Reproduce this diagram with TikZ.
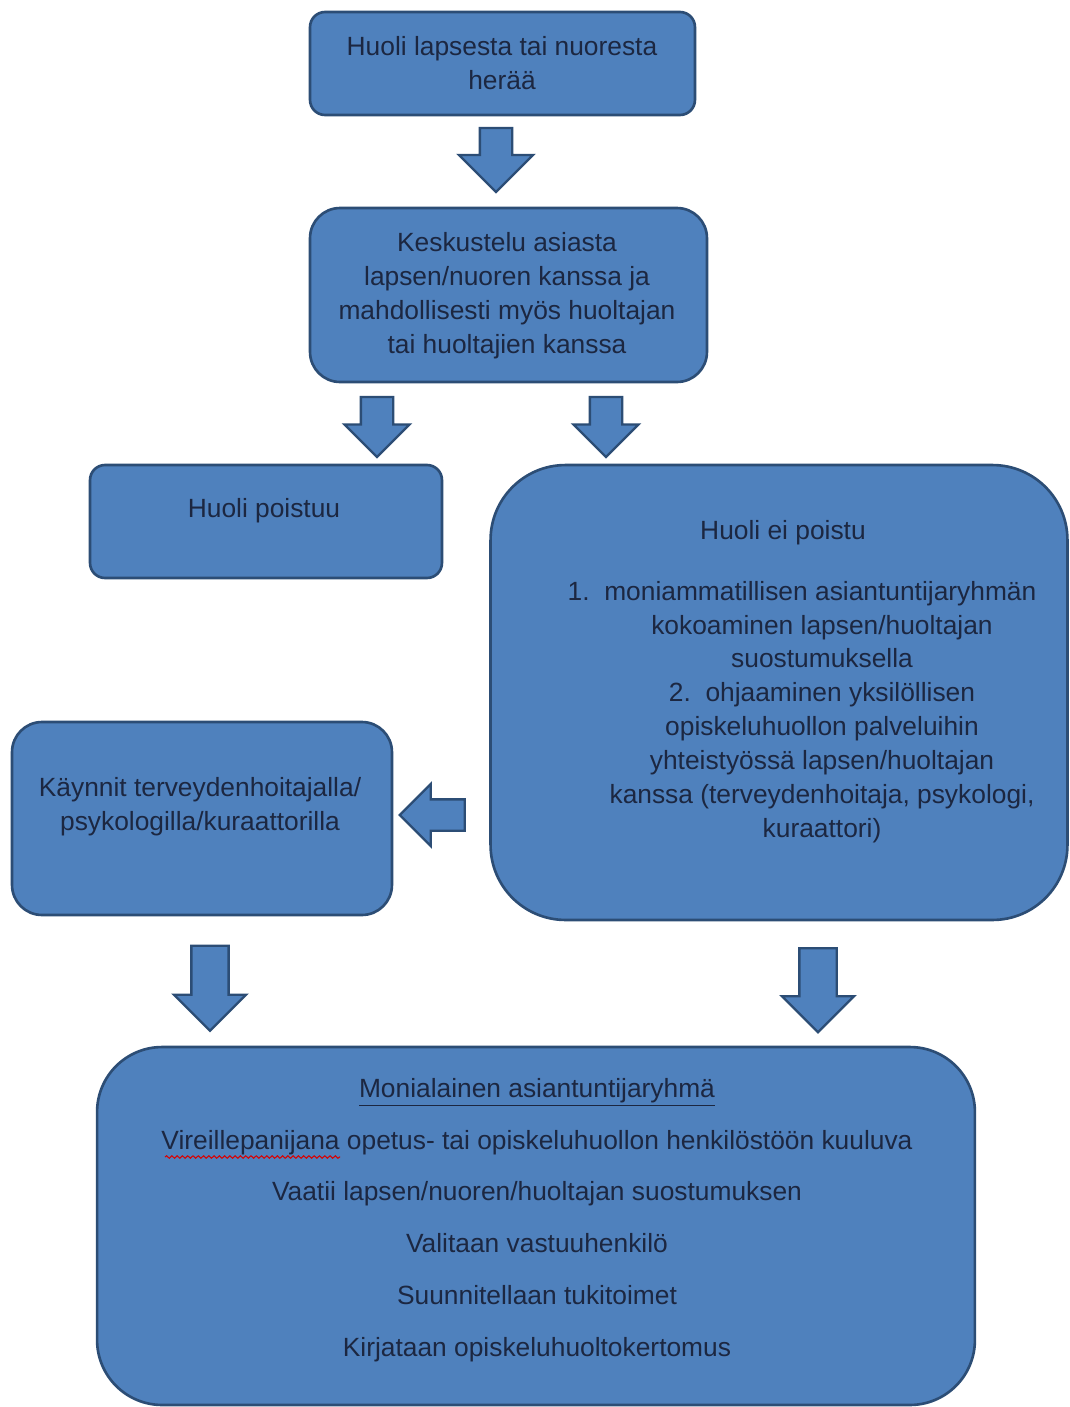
\documentclass[tikz,border=0pt]{standalone}
\usepackage{fontspec}
\setmainfont{Liberation Sans}
\usetikzlibrary{shapes.arrows,decorations.pathmorphing}
\definecolor{boxfill}{HTML}{4F81BD}
\definecolor{boxline}{HTML}{2C4D75}
\definecolor{boxtext}{HTML}{1C2741}
\tikzset{box/.style={draw=boxline,fill=boxfill,line width=1.5pt,inner sep=0pt},
txt/.style={text=boxtext,align=center,font=\fontsize{15}{19.3}\selectfont},
barrow/.style n args={3}{single arrow,draw=boxline,fill=boxfill,line width=1.3pt,inner xsep=0pt,inner ysep=#1,single arrow head extend=#2,minimum height=#3}}
\begin{document}
\begin{tikzpicture}[x=0.02cm,y=-0.02cm]
\fill[white](0,0)rectangle(1070,1407);\useasboundingbox(0,0)rectangle(1070,1407);
% laatikot
\node[box,rounded corners=0.3cm,minimum width=7.7cm,minimum height=2.06cm](huoli)at(502.5,63.5){};
\node[box,rounded corners=0.6cm,minimum width=7.94cm,minimum height=3.48cm](keskustelu)at(508.5,295){};
\node[box,rounded corners=0.3cm,minimum width=7.04cm,minimum height=2.26cm](poistuu)at(266,521.5){};
\node[box,rounded corners=1.5cm,minimum width=11.54cm,minimum height=9.1cm](eipoistu)at(779,692.5){};
\node[box,rounded corners=0.6cm,minimum width=7.6cm,minimum height=3.86cm](kaynnit)at(202,818.5){};
\node[box,rounded corners=1.3cm,minimum width=17.56cm,minimum height=7.16cm](moniala)at(536,1226){};
% tekstit
\node[txt](huoliT)at(502,63){Huoli lapsesta tai nuoresta\\herää};
\node[txt](keskusteluT)at(507,296){Keskustelu asiasta\\lapsen/nuoren kanssa ja\\mahdollisesti myös huoltajan\\tai huoltajien kanssa};
\node[txt](poistuuT)at(264,511){Huoli poistuu};
\node[txt](eipoistuT)at(783,533){Huoli ei poistu};
\node[txt](listaT)at(822,712){1.\ \ moniammatillisen asiantuntijaryhmän\hspace*{0.8cm}\\kokoaminen lapsen/huoltajan\\suostumuksella\\2.\ \ ohjaaminen yksilöllisen\hspace*{0.8cm}\\opiskeluhuollon palveluihin\\yhteistyössä lapsen/huoltajan\\kanssa (terveydenhoitaja, psykologi,\\kuraattori)};
\node[txt](kaynnitT)at(200,807){Käynnit terveydenhoitajalla/\\psykologilla/kuraattorilla};
\node[txt,font=\fontsize{15}{29.5}\selectfont](monialaT)at(537,1220){\underline{Monialainen asiantuntijaryhmä}\\Vireillepanijana opetus- tai opiskeluhuollon henkilöstöön kuuluva\\Vaatii lapsen/nuoren/huoltajan suostumuksen\\Valitaan vastuuhenkilö\\Suunnitellaan tukitoimet\\Kirjataan opiskeluhuoltokertomus};
\draw[red!85!black,line width=0.6pt,decorate,decoration={snake,amplitude=0.7pt,segment length=3pt}](165,1157)--(340,1157);
% nuolet
\node[barrow={0.3cm}{0.42cm}{1.28cm},rotate=-90](n1)at(496,152){};
\node[barrow={0.3cm}{0.33cm}{1.2cm},rotate=-90](n2)at(377,419){};
\node[barrow={0.3cm}{0.33cm}{1.2cm},rotate=-90](n3)at(606,419){};
\node[barrow={0.29cm}{0.31cm}{1.3cm},rotate=180](n4)at(440,815){};
\node[barrow={0.35cm}{0.35cm}{1.7cm},rotate=-90](n5)at(210,979){};
\node[barrow={0.35cm}{0.35cm}{1.68cm},rotate=-90](n6)at(818,981){};
\end{tikzpicture}
\end{document}
